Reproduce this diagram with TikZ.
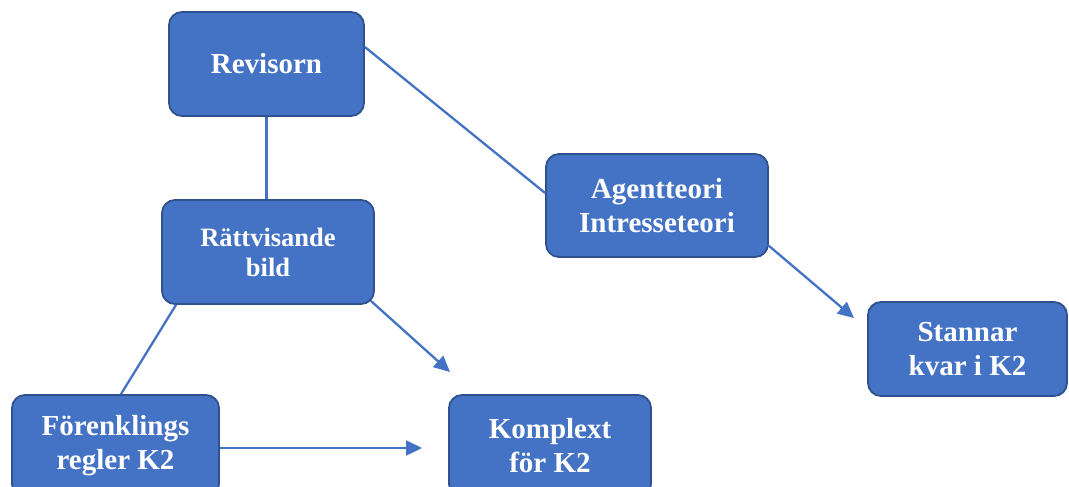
\documentclass[tikz,border=0pt]{standalone}
\usepackage{fontspec}
\setmainfont{Liberation Serif}
\usetikzlibrary{arrows.meta}
\definecolor{boxfill}{HTML}{4472C4}
\definecolor{boxedge}{HTML}{2F528F}
\definecolor{linecol}{HTML}{4472C4}
\tikzset{
  box/.style={draw=boxedge, fill=boxfill, line width=1.8pt, rounded corners=13pt,
    text=white, font=\bfseries\fontsize{29}{34}\selectfont, align=center,
    inner sep=0pt},
  conn/.style={draw=linecol, line width=2.3pt},
  arr/.style={conn, -{Triangle[length=16pt,width=15pt]}}
}
\begin{document}
\begin{tikzpicture}[x=1pt,y=-1pt]
\clip (0,0) rectangle (1069,487);
\fill[white] (0,0) rectangle (1069,487);
\node[box, minimum width=195pt, minimum height=104pt] (rev) at (266.5,64) {Revisorn};
\node[box, minimum width=212pt, minimum height=104pt, font=\bfseries\fontsize{26.5}{30}\selectfont] (ratt) at (268,252) {Rättvisande\\bild};
\node[box, minimum width=222pt, minimum height=103pt] (agent) at (657,205.5) {Agentteori\\Intresseteori};
\node[box, minimum width=199pt, minimum height=94pt] (stan) at (967.5,349) {Stannar\\kvar i K2};
\node[box, minimum width=207pt, minimum height=102pt] (forenk) at (115.5,446) {Förenklings\\regler K2};
\node[box, minimum width=202pt, minimum height=102pt] (komp) at (550,446) {Komplext\\för K2};
\coordinate (e1) at (450,372);
\coordinate (e2) at (422,448);
\coordinate (e3) at (854,318);
\draw[conn] (rev.south) -- (rev.south |- ratt.north);
\draw[conn] ([yshift=17pt]rev.east) -- ([yshift=12.5pt]agent.west);
\draw[conn] ([xshift=-92pt]ratt.south) -- ([xshift=5.5pt]forenk.north);
\draw[arr] ([xshift=-4pt,yshift=4pt]ratt.south east) -- (e1);
\draw[arr] ([yshift=-2pt]forenk.east) -- (e2);
\draw[arr] ([xshift=-1pt,yshift=-39.5pt]agent.east) -- (e3);
\end{tikzpicture}
\end{document}
